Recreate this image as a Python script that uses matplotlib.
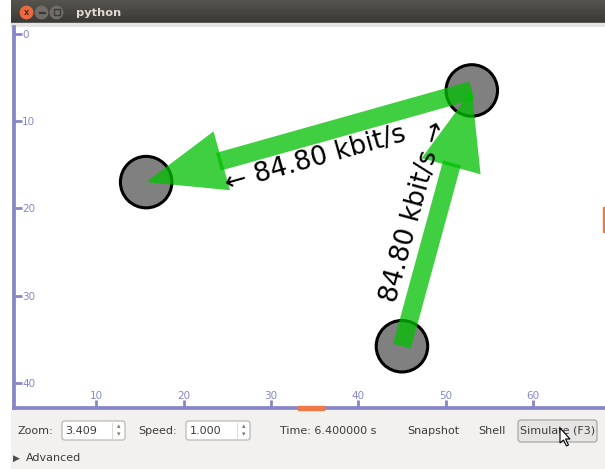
import numpy as np
import matplotlib.pyplot as plt
from matplotlib.patches import Circle, FancyBboxPatch, Rectangle, Polygon

# node positions on the ns-3 canvas (metres)
node_x = [15.7, 53.0, 45.0]
node_y = [17.0, 6.5, 35.8]

# flows drawn as arrows: source node -> destination node
flow_src = [1, 2]
flow_dst = [0, 1]
flow_rate = [84.80, 84.80]  # kbit/s

x_ticks = [10, 20, 30, 40, 50, 60]
y_ticks = [0, 10, 20, 30, 40]

zoom_value = "3.409"
speed_value = "1.000"
sim_time = 6.4

W, H = 605, 469
ruler = '#8787c8'
orange = '#ee7a4a'
green = '#00c000'
panel = '#f2f1f0'
ui_text = '#3c3c3c'

fig = plt.figure(figsize=(W / 100, H / 100), dpi=100)
fig.patch.set_facecolor('white')

# background axes in pixel units for the window chrome
bg = fig.add_axes([0, 0, 1, 1], zorder=0)
bg.set_xlim(0, W)
bg.set_ylim(H, 0)
bg.axis('off')

# title bar
grad = np.linspace(0, 1, 24).reshape(-1, 1)
bg.imshow(grad, extent=(11, W, 23, 0), aspect='auto', cmap=plt.matplotlib.colors.LinearSegmentedColormap.from_list('tb', ['#55544f', '#3a3935']), zorder=1)
bg.add_patch(Rectangle((11, 23), W - 11, 4, color='#e4e3e2', zorder=1))
bg.add_patch(Circle((26.5, 12.5), 6.2, color='#ee6a3c', zorder=2))
bg.text(26.5, 12.8, 'x', color='#5a2a1a', fontsize=6, fontweight='bold', ha='center', va='center', zorder=3)
for cx in (41.5, 56.5):
    bg.add_patch(Circle((cx, 12.5), 6.2, color='#6f6e69', zorder=2))
bg.add_patch(Rectangle((38.5, 11.8), 6, 1.6, color='#3c3b37', zorder=3))
bg.add_patch(Rectangle((53.5, 9.5), 6, 6, fill=False, ec='#3c3b37', lw=1.0, zorder=3))
bg.text(76, 12.5, 'python', color='#dfdbd2', fontsize=8.2, fontweight='bold', ha='left', va='center', zorder=3)

# bottom control panel
bg.add_patch(Rectangle((11, 410), W - 11, H - 410, color=panel, zorder=1))
ty = 430.5
bg.text(17, ty, 'Zoom:', color=ui_text, fontsize=8, va='center', ha='left', zorder=3)
bg.text(138, ty, 'Speed:', color=ui_text, fontsize=8, va='center', ha='left', zorder=3)
for (bx0, bx1, val) in ((62, 125, zoom_value), (186, 250, speed_value)):
    bg.add_patch(FancyBboxPatch((bx0, 421), bx1 - bx0, 19, boxstyle='round,pad=0,rounding_size=2.5',
                                fc='white', ec='#b4b1ab', lw=0.8, zorder=2))
    bg.plot([bx1 - 13, bx1 - 13], [423, 438], color='#dddbd8', lw=0.8, zorder=3)
    bg.text(bx0 + 3.5, ty, val, color=ui_text, fontsize=8, va='center', ha='left', zorder=3)
    bg.text(bx1 - 6.5, 426.5, '\u25b4', color='#7a7a7a', fontsize=5, va='center', ha='center', zorder=3)
    bg.text(bx1 - 6.5, 434.5, '\u25be', color='#7a7a7a', fontsize=5, va='center', ha='center', zorder=3)
bg.text(280, ty, f'Time: {sim_time:.6f} s', color=ui_text, fontsize=8, va='center', ha='left', zorder=3)
bg.text(407, ty, 'Snapshot', color=ui_text, fontsize=8, va='center', ha='left', zorder=3)
bg.text(478, ty, 'Shell', color=ui_text, fontsize=8, va='center', ha='left', zorder=3)
bg.add_patch(FancyBboxPatch((518, 420), 79, 22, boxstyle='round,pad=0,rounding_size=3',
                            fc='#e6e5e3', ec='#a8a6a2', lw=0.9, zorder=2))
bg.text(558, ty, 'Simulate (F3)', color=ui_text, fontsize=8, va='center', ha='center', zorder=3)
bg.text(13, 458, '\u25b6', color='#4c4c4c', fontsize=6.5, va='center', ha='left', zorder=3)
bg.text(26, 458, 'Advanced', color=ui_text, fontsize=8, va='center', ha='left', zorder=3)

# canvas axes with the rulers
ppu = 8.73
x0_px, y0_px = 9.1, 33.7
left_px, right_px, top_px, bottom_px = 13.7, W, 27, 408.3
ax = fig.add_axes([left_px / W, 1 - bottom_px / H, (right_px - left_px) / W, (bottom_px - top_px) / H], zorder=1)
ax.set_xlim((left_px - x0_px) / ppu, (right_px - x0_px) / ppu)
ax.set_ylim((bottom_px - y0_px) / ppu, (top_px - y0_px) / ppu)
ax.set_facecolor('white')
for s in ('top', 'right'):
    ax.spines[s].set_visible(False)
for s in ('left', 'bottom'):
    ax.spines[s].set_color(ruler)
    ax.spines[s].set_linewidth(2.7)

ax.set_xticks(x_ticks)
ax.set_yticks(y_ticks)
ax.tick_params(axis='both', direction='in', color=ruler, labelcolor=ruler, labelsize=7.5, width=2, length=5.5)
ax.tick_params(axis='y', pad=-6.2)
ax.tick_params(axis='x', pad=-5.2)
for lab in ax.get_yticklabels():
    lab.set_ha('left')
for lab in ax.get_xticklabels():
    lab.set_va('bottom')

# nodes
for x, y in zip(node_x, node_y):
    ax.add_patch(Circle((x, y), 2.95, fc='#808080', ec='black', lw=2.2, zorder=2))

# flow arrows and labels
shaft_w, head_w, head_l = 2.1, 7.0, 9.0
fig.canvas.draw()
for s, d, rate in zip(flow_src, flow_dst, flow_rate):
    xs, ys, xd, yd = node_x[s], node_y[s], node_x[d], node_y[d]
    dx, dy = xd - xs, yd - ys
    L = np.hypot(dx, dy)
    ux, uy = dx / L, dy / L
    bx, by = xd - ux * head_l, yd - uy * head_l
    ax.arrow(xs, ys, (bx - xs) + ux * 0.4, (by - ys) + uy * 0.4, width=shaft_w, head_width=shaft_w,
             head_length=0, length_includes_head=True, fc=green, ec='none', alpha=0.75, zorder=3)
    ax.arrow(bx, by, xd - bx, yd - by, width=0.01, head_width=head_w, head_length=head_l,
             length_includes_head=True, fc=green, ec='none', alpha=0.75, zorder=3)

    # label on the left side of the travel direction (y axis points down), kept upright
    p0 = ax.transData.transform((xs, ys))
    p1 = ax.transData.transform((xd, yd))
    ang = np.degrees(np.arctan2(p1[1] - p0[1], p1[0] - p0[0]))
    nx, ny = uy, -ux
    off = 2.75
    tx, ty_ = (xs + xd) / 2 + nx * off, (ys + yd) / 2 + ny * off
    label = f'{rate:.2f} kbit/s'
    if ang > 90 or ang < -90:
        ang -= 180 if ang > 0 else -180
        label = '\u2190 ' + label
    else:
        label = label + ' \u2192'
    ax.text(tx, ty_, label, fontsize=19, rotation=ang, rotation_mode='anchor',
            ha='center', va='center', color='black', zorder=4)

# overlay for scroll indicators and pointer
top = fig.add_axes([0, 0, 1, 1], zorder=5)
top.set_xlim(0, W)
top.set_ylim(H, 0)
top.axis('off')
top.patch.set_alpha(0)
top.add_patch(Rectangle((298, 406.5), 26, 3.6, color=orange))
top.add_patch(Rectangle((602.7, 207), 2.5, 25, color=orange))
top.add_patch(Polygon([(560, 428), (560, 443), (563.5, 440), (566.5, 446), (568.5, 445), (565.5, 439), (570, 439)],
                      closed=True, fc='white', ec='black', lw=0.8))

fig.savefig('out.png', dpi=100)
